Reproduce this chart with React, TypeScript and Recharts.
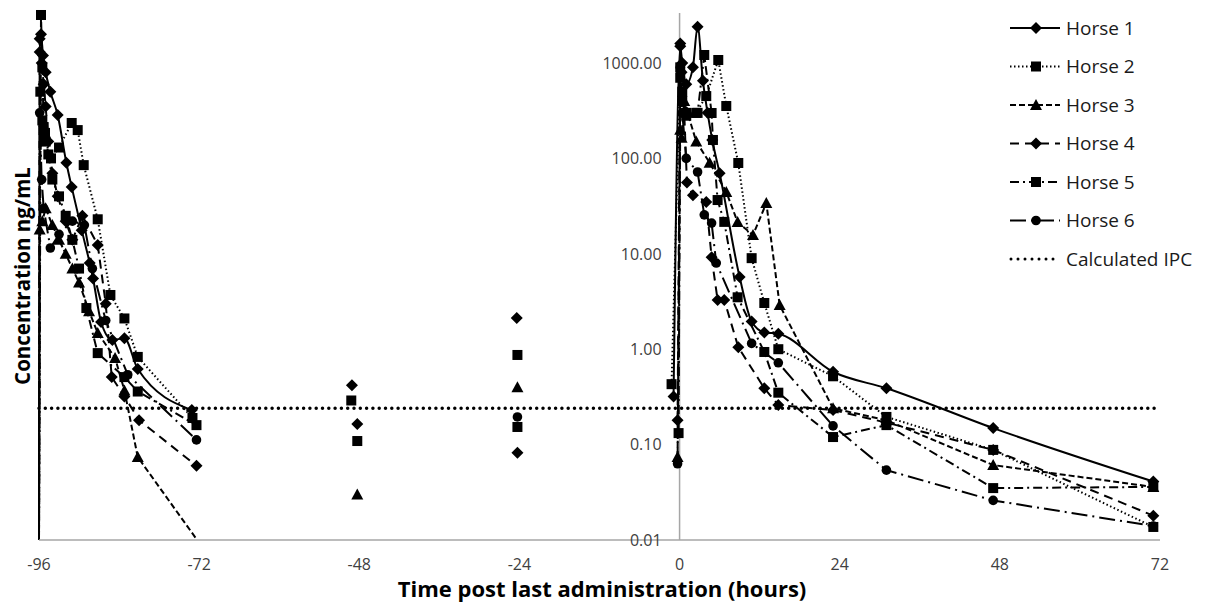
import React from "react"
import { LineChart, Line, XAxis, YAxis, ReferenceLine, Legend } from "recharts"

const xTicks = [-96, -72, -48, -24, 0, 24, 48, 72]
const yTicks = [0.01, 0.1, 1, 10, 100, 1000]
const IPC = 0.24

// null = gap in the line
const h1Hours = [-96, -95.9, -95.7, -95.4, -95, -94.3, -93.2, -91.9, -91.1, -89.6, -88.4, -87.9, -86.7, -85, -83.2, -81.2, -73.1, -60, -49.1, -36, -24.4, -12, -0.9, 0.1, 0.4, 1, 2, 2.7, 3.5, 4.2, 4.9, 6, 9, 10.8, 12.7, 14.8, 23, 31, 47, 71]
const h1Conc = [0.01, 1300, 2000, 1200, 800, 500, 285, 90, 50, 17.7, 8, 5.5, 1.93, 1.25, 1.3, 0.62, 0.23, null, 0.42, null, 2.12, null, 0.32, 1500, 1000, 600, 900, 2400, 650, 300, 156, 70, 5.7, 1.95, 1.5, 1.45, 0.58, 0.39, 0.149, 0.041]

const h2Hours = [-96, -95.8, -95.5, -95, -94.2, -93, -91.1, -90.2, -89.3, -87.2, -85.3, -83.2, -81.2, -73, -60, -49.2, -36, -24.3, -12, -1.2, 0.1, 0.4, 1, 2.5, 4, 5.8, 7, 8.8, 10.8, 12.7, 14.8, 23, 31, 47, 71]
const h2Conc = [0.01, 500, 250, 150, 100, 130, 235, 198, 85, 23, 3.7, 2.1, 0.83, 0.19, null, 0.29, null, 0.87, null, 0.43, 900, 500, 300, 300, 450, 1075, 354, 89.5, 9, 3.05, 1.0, 0.52, 0.195, 0.088, 0.0137]

const h3Hours = [-96, -95.9, -95.5, -95, -94, -93, -92, -91, -90, -88.5, -87.2, -84.6, -83.2, -81.2, -72.3, -60, -48.3, -36, -24.3, -12, -0.3, 0.1, 0.3, 0.7, 1.2, 2.5, 4.5, 7, 8.7, 11, 13, 15, 23, 31, 47, 71]
const h3Conc = [0.01, 18, 22, 30, 20, 14, 10, 7, 5, 2.5, 1.48, 0.81, 0.37, 0.074, 0.01, null, 0.03, null, 0.4, null, 0.074, 200, 165, 400, 300, 150, 90, 44.5, 21.5, 15.7, 34, 2.9, 0.24, 0.18, 0.061, 0.036]

const h4Hours = [-96, -95.9, -95.6, -95.3, -95, -94.6, -94, -93.2, -92, -91, -89.5, -87.2, -86, -85.1, -83.2, -81, -72.4, -60, -48.3, -36, -24.3, -12, -0.3, 0.1, 0.3, 0.7, 1.1, 2, 4, 4.8, 5.7, 6.7, 8.8, 12.7, 14.8, 23, 31, 47, 71]
const h4Conc = [0.01, 1800, 1000, 600, 350, 150, 70, 40, 22, 14, 25, 12.4, 3, 0.51, 0.32, 0.18, 0.06, null, 0.164, null, 0.082, null, 0.18, 1600, 800, 300, 56, 41, 35, 9.2, 3.28, 3.28, 1.05, 0.39, 0.26, 0.23, 0.17, 0.088, 0.018]

const h5Hours = [-96, -95.7, -95.5, -95.3, -95.1, -94.6, -94, -93, -92, -91, -90, -88.9, -87.2, -83.2, -81.2, -72.4, -60, -48.3, -36, -24.3, -12, -0.15, 0.1, 0.4, 1, 2.7, 3.7, 4.8, 5, 5.7, 6.7, 8.7, 12.7, 14.8, 23, 31, 47, 71]
const h5Conc = [0.01, 3185, 900, 213, 185, 110, 60, 40, 25, 14, 7, 2.7, 0.91, 0.51, 0.36, 0.16, null, 0.109, null, 0.153, null, 0.132, 700, 400, 280, 300, 1213, 299, 156, 36.6, 21.6, 3.5, 0.935, 0.35, 0.12, 0.16, 0.035, 0.036]

const h6Hours = [-96, -95.9, -95.6, -95.3, -94.3, -93, -91, -89.2, -88, -86, -82.7, -72.4, -60, -24.3, -12, -0.3, 0.1, 0.4, 1, 2.7, 3.7, 4.8, 5.5, 10.8, 14.8, 23, 31, 47, 71]
const h6Conc = [0.01, 300, 60, 30, 11.5, 16, 22, 20, 7, 2, 0.54, 0.112, null, 0.195, null, 0.063, 900, 300, 100, 72, 25.6, 21, 8, 1.15, 0.72, 0.157, 0.054, 0.026, 0.014]

const ipcHours = [-96, 72]
const ipcConc = [IPC, IPC]

const toPoints = (hours: number[], conc: (number | null)[]) => hours.map((t, i) => ({ t, v: conc[i] }))

type Shape = "diamond" | "square" | "triangle" | "circle"

const series: { name: string; data: any[]; dash?: string; shape: Shape; curve: "linear" | "monotone" }[] = [
  { name: "Horse 1", data: toPoints(h1Hours, h1Conc), shape: "diamond", curve: "monotone" },
  { name: "Horse 2", data: toPoints(h2Hours, h2Conc), dash: "1.5 2.5", shape: "square", curve: "linear" },
  { name: "Horse 3", data: toPoints(h3Hours, h3Conc), dash: "6 3", shape: "triangle", curve: "linear" },
  { name: "Horse 4", data: toPoints(h4Hours, h4Conc), dash: "9 6", shape: "diamond", curve: "linear" },
  { name: "Horse 5", data: toPoints(h5Hours, h5Conc), dash: "9 4 2 4", shape: "square", curve: "linear" },
  { name: "Horse 6", data: toPoints(h6Hours, h6Conc), dash: "16 5 2 5", shape: "circle", curve: "linear" },
]

const X_MIN = -96
const X_MAX = 72
const MARGIN = { top: 13, right: 48, left: 38, bottom: 16 }
const W = 1208
const H = 606
const Y_WIDTH = 1
const PLOT_LEFT = MARGIN.left + Y_WIDTH
const ZERO_X = PLOT_LEFT + ((0 - X_MIN) / (X_MAX - X_MIN)) * (W - PLOT_LEFT - MARGIN.right)
const FONT = "Open Sans"

function Marker({ shape, cx, cy }: { shape: Shape; cx: number; cy: number }) {
  if (shape === "diamond")
    return <polygon points={`${cx},${cy - 6} ${cx + 6},${cy} ${cx},${cy + 6} ${cx - 6},${cy}`} fill="#000" />
  if (shape === "square") return <rect x={cx - 5} y={cy - 5} width={10} height={10} fill="#000" />
  if (shape === "triangle")
    return <polygon points={`${cx},${cy - 6} ${cx + 6},${cy + 5} ${cx - 6},${cy + 5}`} fill="#000" />
  return <circle cx={cx} cy={cy} r={4.8} fill="#000" />
}

const makeDot = (shape: Shape) => (props: any) => {
  const { cx, cy, value, index } = props
  if (value == null || value <= 0.01 || cx == null || cy == null) return <g key={index} />
  return (
    <g key={index}>
      <Marker shape={shape} cx={cx} cy={cy} />
    </g>
  )
}

const renderYTick = (props: any) => {
  const { y, payload, index } = props
  return (
    <text key={index} x={ZERO_X - 18} y={y} dy="0.36em" textAnchor="end" fill="#404040" fontSize={16} fontFamily={FONT}>
      {Number(payload.value).toFixed(2)}
    </text>
  )
}

function LegendBox() {
  const rows = [...series.map((s) => ({ name: s.name, dash: s.dash, shape: s.shape as Shape | null })), { name: "Calculated IPC", dash: "ipc", shape: null }]
  return (
    <svg width={208} height={280}>
      {rows.map((r, i) => {
        const y = 28 + i * 38.5
        return (
          <g key={r.name}>
            {r.dash === "ipc" ? (
              <line x1={11} x2={60} y1={y} y2={y} stroke="#000" strokeWidth={3} strokeDasharray="0 7" strokeLinecap="round" />
            ) : (
              <line x1={10} x2={60} y1={y} y2={y} stroke="#000" strokeWidth={2} strokeDasharray={r.dash} />
            )}
            {r.shape && <Marker shape={r.shape} cx={36} cy={y} />}
            <text x={66} y={y} dy="0.36em" fontSize={19} fontFamily={FONT} fill="#1a1a1a">
              {r.name}
            </text>
          </g>
        )
      })}
    </svg>
  )
}

export default function App() {
  return (
    <div style={{ position: "absolute", left: 0, top: 0, width: W, height: H, background: "#fff", fontFamily: FONT }}>
      <LineChart width={W} height={H} margin={MARGIN}>
        <XAxis
          dataKey="t"
          type="number"
          domain={[X_MIN, X_MAX]}
          ticks={xTicks}
          interval={0}
          height={50}
          tickLine={false}
          tickSize={0}
          tickMargin={19}
          axisLine={{ stroke: "#a6a6a6", strokeWidth: 1.5 }}
          tick={{ fill: "#404040", fontSize: 16, fontFamily: FONT }}
        />
        <YAxis
          type="number"
          scale="log"
          domain={[0.01, 3342]}
          ticks={yTicks}
          interval={0}
          width={Y_WIDTH}
          axisLine={false}
          tickLine={false}
          tick={renderYTick}
        />
        <ReferenceLine x={0} stroke="#a6a6a6" strokeWidth={1.5} />
        <Line
          data={toPoints(ipcHours, ipcConc)}
          dataKey="v"
          type="linear"
          stroke="#000"
          strokeWidth={3.5}
          strokeDasharray="0 6.3"
          strokeLinecap="round"
          dot={false}
          activeDot={false}
          legendType="none"
          isAnimationActive={false}
        />
        {series.map((s) => (
          <Line
            key={s.name}
            name={s.name}
            data={s.data}
            dataKey="v"
            type={s.curve}
            stroke="#000"
            strokeWidth={2}
            strokeDasharray={s.dash}
            dot={makeDot(s.shape)}
            activeDot={false}
            isAnimationActive={false}
          />
        ))}
        <Legend
          layout="vertical"
          align="center"
          verticalAlign="middle"
          content={() => <LegendBox />}
          wrapperStyle={{ left: 1000, top: 0, width: 208, height: 280 }}
        />
      </LineChart>
      <div
        style={{
          position: "absolute",
          left: 22,
          top: 276,
          transform: "translate(-50%, -50%) rotate(-90deg)",
          whiteSpace: "nowrap",
          fontWeight: 700,
          fontSize: 20.5,
          lineHeight: 1,
          color: "#000",
        }}
      >
        Concentration ng/mL
      </div>
      <div
        style={{
          position: "absolute",
          left: 602,
          top: 588,
          transform: "translate(-50%, -50%)",
          whiteSpace: "nowrap",
          fontWeight: 700,
          fontSize: 22,
          lineHeight: 1,
          color: "#000",
        }}
      >
        Time post last administration (hours)
      </div>
    </div>
  )
}
